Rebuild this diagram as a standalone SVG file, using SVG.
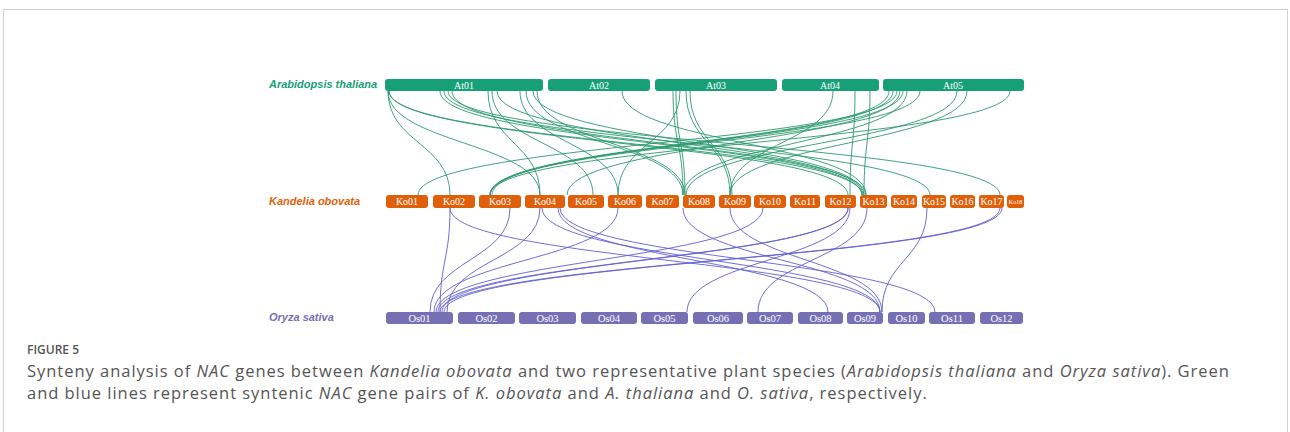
<svg xmlns="http://www.w3.org/2000/svg" width="1290" height="432" viewBox="0 0 1290 432">
<style>
.bg{fill:#ffffff}
.frame{fill:none;stroke:#cfcfcf;stroke-width:1}
.at rect{fill:#17a078}
.ko rect{fill:#df5f0b}
.os rect{fill:#7570b3}
.bt{font-family:"Liberation Serif",serif;font-size:10px;fill:#ffffff;text-anchor:middle}
.os .bt{font-size:10.5px}
.sp{font-family:"Liberation Sans",Arial,sans-serif;font-size:11px;font-weight:bold;font-style:italic}
.g path{fill:none;stroke:#2a9a6c;stroke-width:0.9}
.b path{fill:none;stroke:#5f5fd0;stroke-width:0.9}
.cap{font-family:"Open Sans",sans-serif;fill:#555555}
.cl{font-size:16.5px;letter-spacing:0.97px}
</style>
<rect class="bg" x="0" y="0" width="1290" height="432"/>
<rect class="frame" x="3.5" y="9.5" width="1284" height="440"/>

<g id="connectors">
<g class="g">
<path d="M388 91 C388 143,450 143,450 195"/>
<path d="M388 91 C388 143,540 143,540 195"/>
<path d="M389 91 C389 143,848 143,848 195"/>
<path d="M389 91 C389 143,862 143,862 195"/>
<path d="M440 91 C440 143,862 143,862 195"/>
<path d="M444 91 C444 143,930 143,930 195"/>
<path d="M448 91 C448 143,1000 143,1000 195"/>
<path d="M452 91 C452 143,866 143,866 195"/>
<path d="M488 91 C488 143,540 143,540 195"/>
<path d="M492 91 C492 143,593 143,593 195"/>
<path d="M497 91 C497 143,863 143,863 195"/>
<path d="M520 91 C520 143,618 143,618 195"/>
<path d="M526 91 C526 143,683 143,683 195"/>
<path d="M533 91 C533 143,864 143,864 195"/>
<path d="M537 91 C537 143,685 143,685 195"/>
<path d="M622 91 C622 143,866 143,866 195"/>
<path d="M673 91 C673 143,683 143,683 195"/>
<path d="M676 91 C676 143,685 143,685 195"/>
<path d="M680 91 C680 143,618 143,618 195"/>
<path d="M686 91 C686 143,730 143,730 195"/>
<path d="M690 91 C690 143,732 143,732 195"/>
<path d="M833 91 C833 143,730 143,730 195"/>
<path d="M855 91 C855 143,850 143,850 195"/>
<path d="M870 91 C870 143,864 143,864 195"/>
<path d="M889 91 C889 143,490 143,490 195"/>
<path d="M893 91 C893 143,492 143,492 195"/>
<path d="M897 91 C897 143,418 143,418 195"/>
<path d="M900 91 C900 143,567 143,567 195"/>
<path d="M903 91 C903 143,490 143,490 195"/>
<path d="M907 91 C907 143,683 143,683 195"/>
<path d="M920 91 C920 143,490 143,490 195"/>
<path d="M957 91 C957 143,686 143,686 195"/>
<path d="M967 91 C967 143,730 143,730 195"/>
<path d="M1010 91 C1010 143,490 143,490 195"/>
</g>
<g class="b">
<path d="M450 208 C450 260,440 260,440 312"/>
<path d="M450 208 C450 260,880 260,880 312"/>
<path d="M510 208 C510 260,430 260,430 312"/>
<path d="M540 208 C540 260,447 260,447 312"/>
<path d="M542 208 C542 260,880 260,880 312"/>
<path d="M558 208 C558 260,828 260,828 312"/>
<path d="M560 208 C560 260,935 260,935 312"/>
<path d="M618 208 C618 260,434 260,434 312"/>
<path d="M683 208 C683 260,880 260,880 312"/>
<path d="M730 208 C730 260,882 260,882 312"/>
<path d="M763 208 C763 260,436 260,436 312"/>
<path d="M848 208 C848 260,438 260,438 312"/>
<path d="M848 208 C848 260,442 260,442 312"/>
<path d="M850 208 C850 260,687 260,687 312"/>
<path d="M867 208 C867 260,758 260,758 312"/>
<path d="M927 208 C927 260,882 260,882 312"/>
<path d="M1000 208 C1000 260,440 260,440 312"/>
<path d="M1002 208 C1002 260,444 260,444 312"/>
</g>
</g>

<text class="sp" x="269" y="88" fill="#17a078">Arabidopsis thaliana</text>
<text class="sp" x="269" y="205" fill="#df5f0b">Kandelia obovata</text>
<text class="sp" x="269" y="321" fill="#7570b3">Oryza sativa</text>

<g id="At01" class="at"><rect x="385" y="79" width="158" height="12" rx="3"/><text class="bt" x="464" y="88.5">At01</text></g>
<g id="At02" class="at"><rect x="548" y="79" width="102" height="12" rx="3"/><text class="bt" x="599" y="88.5">At02</text></g>
<g id="At03" class="at"><rect x="655" y="79" width="122" height="12" rx="3"/><text class="bt" x="716" y="88.5">At03</text></g>
<g id="At04" class="at"><rect x="782" y="79" width="97" height="12" rx="3"/><text class="bt" x="830" y="88.5">At04</text></g>
<g id="At05" class="at"><rect x="883" y="79" width="141" height="12" rx="3"/><text class="bt" x="953" y="88.5">At05</text></g>

<g id="Ko01" class="ko"><rect x="386" y="195" width="42" height="13" rx="3"/><text class="bt" x="407" y="205">Ko01</text></g>
<g id="Ko02" class="ko"><rect x="433" y="195" width="42" height="13" rx="3"/><text class="bt" x="454" y="205">Ko02</text></g>
<g id="Ko03" class="ko"><rect x="479" y="195" width="42" height="13" rx="3"/><text class="bt" x="500" y="205">Ko03</text></g>
<g id="Ko04" class="ko"><rect x="525" y="195" width="40" height="13" rx="3"/><text class="bt" x="545" y="205">Ko04</text></g>
<g id="Ko05" class="ko"><rect x="568" y="195" width="36" height="13" rx="3"/><text class="bt" x="586" y="205">Ko05</text></g>
<g id="Ko06" class="ko"><rect x="608" y="195" width="34" height="13" rx="3"/><text class="bt" x="625" y="205">Ko06</text></g>
<g id="Ko07" class="ko"><rect x="646" y="195" width="33" height="13" rx="3"/><text class="bt" x="662.5" y="205">Ko07</text></g>
<g id="Ko08" class="ko"><rect x="683" y="195" width="32" height="13" rx="3"/><text class="bt" x="699" y="205">Ko08</text></g>
<g id="Ko09" class="ko"><rect x="719" y="195" width="32" height="13" rx="3"/><text class="bt" x="735" y="205">Ko09</text></g>
<g id="Ko10" class="ko"><rect x="754" y="195" width="32" height="13" rx="3"/><text class="bt" x="770" y="205">Ko10</text></g>
<g id="Ko11" class="ko"><rect x="790" y="195" width="30" height="13" rx="3"/><text class="bt" x="805" y="205">Ko11</text></g>
<g id="Ko12" class="ko"><rect x="825" y="195" width="31" height="13" rx="3"/><text class="bt" x="840.5" y="205">Ko12</text></g>
<g id="Ko13" class="ko"><rect x="860" y="195" width="27" height="13" rx="3"/><text class="bt" x="873.5" y="205">Ko13</text></g>
<g id="Ko14" class="ko"><rect x="891" y="195" width="26" height="13" rx="3"/><text class="bt" x="904" y="205">Ko14</text></g>
<g id="Ko15" class="ko"><rect x="922" y="195" width="24" height="13" rx="3"/><text class="bt" x="934" y="205">Ko15</text></g>
<g id="Ko16" class="ko"><rect x="950" y="195" width="25" height="13" rx="3"/><text class="bt" x="962.5" y="205">Ko16</text></g>
<g id="Ko17" class="ko"><rect x="979" y="195" width="25" height="13" rx="3"/><text class="bt" x="991.5" y="205">Ko17</text></g>
<g id="Ko18" class="ko"><rect x="1007" y="195" width="17" height="13" rx="3"/><text class="bt" x="1015.5" y="204" style="font-size:6px">Ko18</text></g>

<g id="Os01" class="os"><rect x="386" y="312" width="67" height="12" rx="3"/><text class="bt" x="419.5" y="321.5">Os01</text></g>
<g id="Os02" class="os"><rect x="458" y="312" width="57" height="12" rx="3"/><text class="bt" x="486.5" y="321.5">Os02</text></g>
<g id="Os03" class="os"><rect x="519" y="312" width="57" height="12" rx="3"/><text class="bt" x="547.5" y="321.5">Os03</text></g>
<g id="Os04" class="os"><rect x="581" y="312" width="56" height="12" rx="3"/><text class="bt" x="609" y="321.5">Os04</text></g>
<g id="Os05" class="os"><rect x="641" y="312" width="47" height="12" rx="3"/><text class="bt" x="664.5" y="321.5">Os05</text></g>
<g id="Os06" class="os"><rect x="693" y="312" width="50" height="12" rx="3"/><text class="bt" x="718" y="321.5">Os06</text></g>
<g id="Os07" class="os"><rect x="747" y="312" width="46" height="12" rx="3"/><text class="bt" x="770" y="321.5">Os07</text></g>
<g id="Os08" class="os"><rect x="798" y="312" width="45" height="12" rx="3"/><text class="bt" x="820.5" y="321.5">Os08</text></g>
<g id="Os09" class="os"><rect x="847" y="312" width="36" height="12" rx="3"/><text class="bt" x="865" y="321.5">Os09</text></g>
<g id="Os10" class="os"><rect x="888" y="312" width="37" height="12" rx="3"/><text class="bt" x="906.5" y="321.5">Os10</text></g>
<g id="Os11" class="os"><rect x="929" y="312" width="46" height="12" rx="3"/><text class="bt" x="952" y="321.5">Os11</text></g>
<g id="Os12" class="os"><rect x="980" y="312" width="43" height="12" rx="3"/><text class="bt" x="1001.5" y="321.5">Os12</text></g>

<text class="cap" x="27" y="354" style="font-size:12px;font-weight:600">FIGURE 5</text>
<text class="cap cl" x="27" y="377">Synteny analysis of <tspan font-style="italic">NAC</tspan> genes between <tspan font-style="italic">Kandelia obovata</tspan> and two representative plant species (<tspan font-style="italic">Arabidopsis thaliana</tspan> and <tspan font-style="italic">Oryza sativa</tspan>). Green</text>
<text class="cap cl" x="27" y="399">and blue lines represent syntenic <tspan font-style="italic">NAC</tspan> gene pairs of <tspan font-style="italic">K. obovata</tspan> and <tspan font-style="italic">A. thaliana</tspan> and <tspan font-style="italic">O. sativa</tspan>, respectively.</text>
</svg>
